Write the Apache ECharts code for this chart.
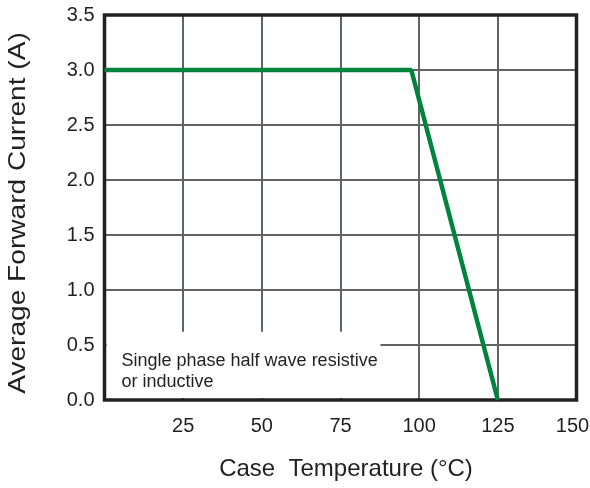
<!DOCTYPE html>
<html>
<head>
<meta charset="utf-8">
<script src="https://cdn.jsdelivr.net/npm/echarts@6/dist/echarts.min.js"></script>
<style>
html,body{margin:0;padding:0;background:#fff;}
#c{width:590px;height:488px;}
</style>
</head>
<body>
<div id="c"></div>
<script>
const temps = [0, 97.5, 125];
const currents = [3.0, 3.0, 0.0];
const xTicks = [25, 50, 75, 100, 125, 150];
const yTicks = ['0.0','0.5','1.0','1.5','2.0','2.5','3.0','3.5'];
const noteLines = ['Single phase half wave resistive', 'or inductive'];
const xTitle = 'Case  Temperature (\u00b0C)';
const yTitle = 'Average Forward Current (A)';

const chart = echarts.init(document.getElementById('c'), null, {renderer:'canvas'});
const dark = '#231f20';
const gridC = '#5f6464';
const ff = '"Liberation Sans", Arial, sans-serif';
chart.setOption({
  animation:false,
  backgroundColor:'#fff',
  grid:{left:104.5, right:13.5, top:15, bottom:88, containLabel:false, outerBoundsMode:'none', show:true, borderColor:dark, borderWidth:3.5, backgroundColor:'transparent', z:3},
  xAxis:{
    type:'value', min:0, max:150, interval:25,
    axisLine:{show:false},
    axisTick:{show:false},
    splitLine:{show:true, lineStyle:{color:gridC, width:2}},
    axisLabel:{
      color:dark, fontFamily:ff, fontSize:20, margin:16,
      formatter:v=> {
        if (!xTicks.includes(v)) return '';
        return v === xTicks[xTicks.length-1] ? '{m|' + v + '}' : String(v);
      },
      rich:{m:{color:dark, fontFamily:ff, fontSize:20, padding:[0,8,0,0]}}
    }
  },
  yAxis:{
    type:'value', min:0, max:3.5, interval:0.5,
    axisLine:{show:false},
    axisTick:{show:false},
    splitLine:{show:true, lineStyle:{color:gridC, width:2}},
    axisLabel:{
      color:dark, fontFamily:ff, fontSize:20, margin:10,
      formatter:v=> yTicks[Math.round(v/0.5)]
    }
  },
  series:[{
    type:'line', data: temps.map((t,i)=>[t, currents[i]]),
    symbol:'none', lineStyle:{color:'#00843d', width:4.5}, z:5
  }]
});

const p0 = chart.convertToPixel({gridIndex:0}, [0, 0]);
const pBox = chart.convertToPixel({gridIndex:0}, [87.7, 0.62]);
chart.setOption({
  graphic:[
    {type:'rect', z:2, shape:{x:p0[0]+2, y:pBox[1], width:pBox[0]-p0[0]-2, height:p0[1]-pBox[1]-2}, style:{fill:'#fff'}},
    {type:'text', z:4, x:p0[0]+17, y:361.5, style:{text:noteLines[0], fill:dark, font:'18px ' + ff, textVerticalAlign:'middle'}},
    {type:'text', z:4, x:p0[0]+17, y:382, style:{text:noteLines[1], fill:dark, font:'18px ' + ff, textVerticalAlign:'middle'}},
    {type:'text', z:4, x:346, y:469, style:{text:xTitle, fill:dark, font:'24px ' + ff, textAlign:'center', textVerticalAlign:'middle'}},
    {type:'text', z:4, x:18, y:213, rotation:Math.PI/2, scaleX:1.17, style:{text:yTitle, fill:dark, font:'24px ' + ff, textAlign:'center', textVerticalAlign:'middle'}}
  ]
});
</script>
</body>
</html>
